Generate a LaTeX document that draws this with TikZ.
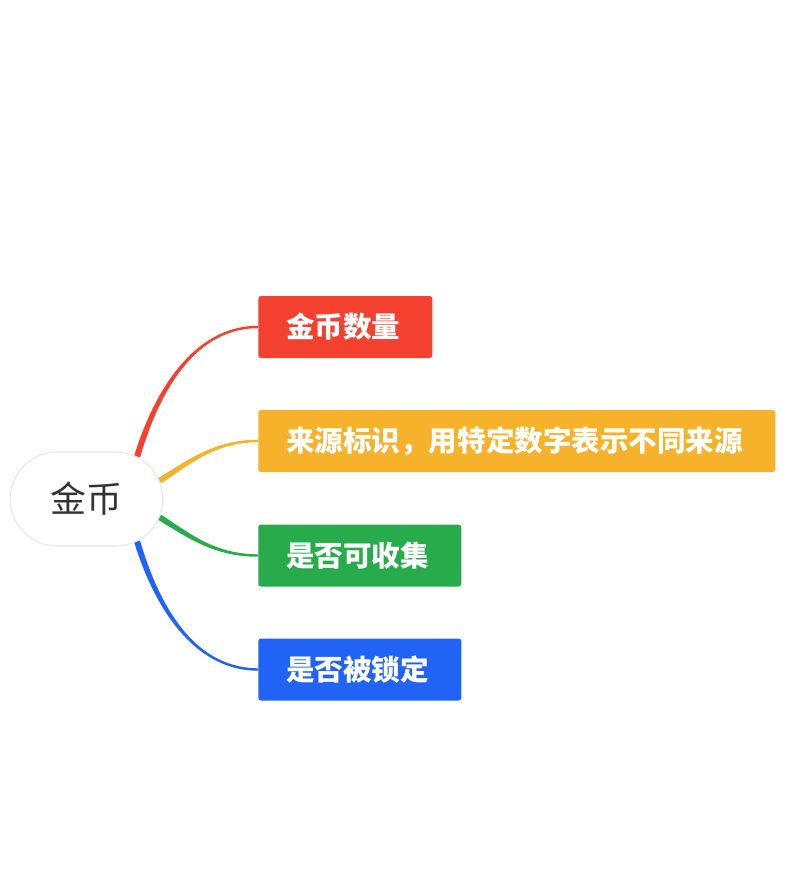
\documentclass[tikz,border=0pt]{standalone}
\usepackage{fontspec}
\setmainfont{Noto Sans CJK SC}
\usepackage{tikz}
\usetikzlibrary{positioning, calc, shapes.misc, backgrounds}
\definecolor{mindred}{RGB}{244, 64, 47}
\definecolor{mindorange}{RGB}{245, 178, 42}
\definecolor{mindgreen}{RGB}{40, 171, 74}
\definecolor{mindblue}{RGB}{33, 99, 245}
\definecolor{hubgray}{RGB}{230, 230, 230}
\definecolor{hubtext}{RGB}{51, 51, 51}

\begin{document}
\begin{tikzpicture}[
    x=0.75pt, y=-0.75pt,
    topic/.style={rectangle, rounded corners=2pt, fill=#1, text=white, anchor=west, minimum height=46.5pt, inner xsep=21pt, inner ysep=0pt, align=left, font=\fontsize{21.4pt}{24pt}\selectfont\bfseries},
    hubnode/.style={rounded rectangle, draw=hubgray, line width=0.8pt, fill=white, text=hubtext, minimum width=121pt, minimum height=70.5pt, font=\fontsize{27pt}{30pt}\selectfont}
]
\useasboundingbox (0,0) rectangle (798,892);

\node[hubnode] (hub) at (86.5, 499) {金币};

\node[topic=mindred, text width=88.5pt] (t1) at (258, 327) {金币数量};
\node[topic=mindorange, text width=345.75pt] (t2) at (258, 441) {来源标识，用特定数字表示不同来源};
\node[topic=mindgreen, text width=110.25pt] (t3) at (258, 555.5) {是否可收集};
\node[topic=mindblue, text width=110.25pt] (t4) at (258, 669.5) {是否被锁定};

% tapered branches
\begin{pgfonlayer}{background}
\foreach \name/\col/\ang/\dx/\dy/\px/\py/\len in {t1/mindred/40/23/-76/2.9/0.9/58, t2/mindorange/14/30/-19/1.6/2.5/43, t3/mindgreen/-14/30/19/-1.6/2.5/43, t4/mindblue/-40/23/76/-2.9/0.9/58}
  \fill[\col] ($(hub.\ang)+(\px,\py)$) .. controls ($(hub.\ang)+(\dx,\dy)+(0.8*\px,0.8*\py)$) and ($(\name.west)+(-\len,1.4)$) .. ($(\name.west)+(0,1.2)$)
    -- ($(\name.west)+(0,-1.2)$) .. controls ($(\name.west)+(-\len,-1.4)$) and ($(hub.\ang)+(\dx,\dy)-(0.8*\px,0.8*\py)$) .. ($(hub.\ang)-(\px,\py)$) -- cycle;
\end{pgfonlayer}

\end{tikzpicture}
\end{document}
